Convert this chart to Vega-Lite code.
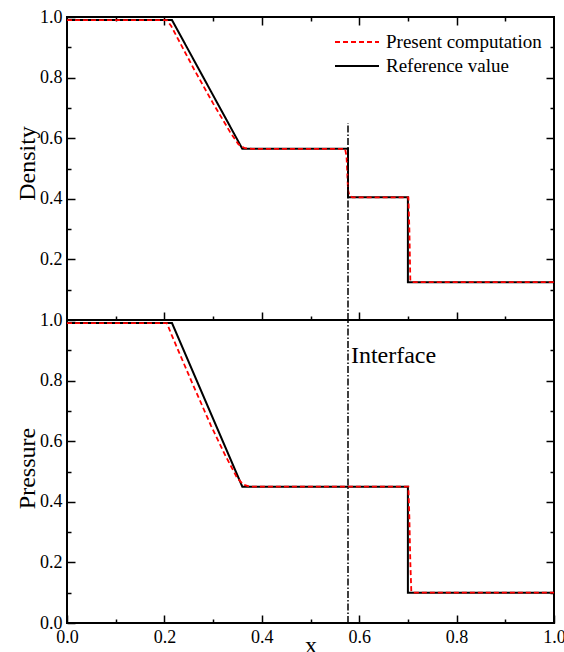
{
  "$schema": "https://vega.github.io/schema/vega-lite/v6.json",
  "background": "white",
  "padding": {"left": 14, "top": 7, "right": 0, "bottom": 0},
  "spacing": 0,
  "bounds": "flush",
  "config": {
    "font": "Liberation Serif",
    "view": {"stroke": "black", "strokeWidth": 2},
    "axis": {
      "grid": false, "domain": false, "tickColor": "black", "tickWidth": 1.5,
      "labelFont": "Liberation Serif", "labelFontSize": 18, "labelColor": "black",
      "titleFont": "Liberation Serif", "titleFontSize": 24, "titleFontWeight": "normal", "titleColor": "black",
      "labelPadding": 13, "labelFlush": false, "labelOverlap": false
    },
    "legend": {
      "orient": "none", "legendX": 267, "legendY": 14, "padding": 0, "title": null,
      "labelFont": "Liberation Serif", "labelFontSize": 19, "labelColor": "black", "labelOffset": 6,
      "symbolType": "stroke", "symbolSize": 1936, "symbolStrokeWidth": 1.8, "clipHeight": 22, "rowPadding": 2
    }
  },
  "resolve": {"legend": {"color": "independent", "strokeDash": "independent"}},
  "datasets": {
    "curves": [
      {"p": "Density", "s": "Reference value", "i": 0, "x": 0.0, "y": 0.99},
      {"p": "Density", "s": "Reference value", "i": 1, "x": 0.2156, "y": 0.99},
      {"p": "Density", "s": "Reference value", "i": 2, "x": 0.36, "y": 0.565},
      {"p": "Density", "s": "Reference value", "i": 3, "x": 0.577, "y": 0.565},
      {"p": "Density", "s": "Reference value", "i": 4, "x": 0.577, "y": 0.405},
      {"p": "Density", "s": "Reference value", "i": 5, "x": 0.70, "y": 0.405},
      {"p": "Density", "s": "Reference value", "i": 6, "x": 0.70, "y": 0.125},
      {"p": "Density", "s": "Reference value", "i": 7, "x": 1.0, "y": 0.125},
      {"p": "Density", "s": "Present computation", "i": 0, "x": 0.0, "y": 0.99},
      {"p": "Density", "s": "Present computation", "i": 1, "x": 0.205, "y": 0.99},
      {"p": "Density", "s": "Present computation", "i": 2, "x": 0.214, "y": 0.97},
      {"p": "Density", "s": "Present computation", "i": 3, "x": 0.26, "y": 0.83},
      {"p": "Density", "s": "Present computation", "i": 4, "x": 0.30, "y": 0.715},
      {"p": "Density", "s": "Present computation", "i": 5, "x": 0.335, "y": 0.62},
      {"p": "Density", "s": "Present computation", "i": 6, "x": 0.352, "y": 0.58},
      {"p": "Density", "s": "Present computation", "i": 7, "x": 0.365, "y": 0.567},
      {"p": "Density", "s": "Present computation", "i": 8, "x": 0.38, "y": 0.565},
      {"p": "Density", "s": "Present computation", "i": 9, "x": 0.571, "y": 0.565},
      {"p": "Density", "s": "Present computation", "i": 10, "x": 0.574, "y": 0.54},
      {"p": "Density", "s": "Present computation", "i": 11, "x": 0.577, "y": 0.43},
      {"p": "Density", "s": "Present computation", "i": 12, "x": 0.580, "y": 0.41},
      {"p": "Density", "s": "Present computation", "i": 13, "x": 0.586, "y": 0.405},
      {"p": "Density", "s": "Present computation", "i": 14, "x": 0.701, "y": 0.405},
      {"p": "Density", "s": "Present computation", "i": 15, "x": 0.703, "y": 0.30},
      {"p": "Density", "s": "Present computation", "i": 16, "x": 0.705, "y": 0.13},
      {"p": "Density", "s": "Present computation", "i": 17, "x": 0.709, "y": 0.125},
      {"p": "Density", "s": "Present computation", "i": 18, "x": 1.0, "y": 0.125},
      {"p": "Pressure", "s": "Reference value", "i": 0, "x": 0.0, "y": 0.99},
      {"p": "Pressure", "s": "Reference value", "i": 1, "x": 0.2156, "y": 0.99},
      {"p": "Pressure", "s": "Reference value", "i": 2, "x": 0.36, "y": 0.45},
      {"p": "Pressure", "s": "Reference value", "i": 3, "x": 0.70, "y": 0.45},
      {"p": "Pressure", "s": "Reference value", "i": 4, "x": 0.70, "y": 0.10},
      {"p": "Pressure", "s": "Reference value", "i": 5, "x": 1.0, "y": 0.10},
      {"p": "Pressure", "s": "Present computation", "i": 0, "x": 0.0, "y": 0.99},
      {"p": "Pressure", "s": "Present computation", "i": 1, "x": 0.205, "y": 0.99},
      {"p": "Pressure", "s": "Present computation", "i": 2, "x": 0.215, "y": 0.95},
      {"p": "Pressure", "s": "Present computation", "i": 3, "x": 0.255, "y": 0.80},
      {"p": "Pressure", "s": "Present computation", "i": 4, "x": 0.296, "y": 0.65},
      {"p": "Pressure", "s": "Present computation", "i": 5, "x": 0.326, "y": 0.55},
      {"p": "Pressure", "s": "Present computation", "i": 6, "x": 0.349, "y": 0.48},
      {"p": "Pressure", "s": "Present computation", "i": 7, "x": 0.362, "y": 0.457},
      {"p": "Pressure", "s": "Present computation", "i": 8, "x": 0.375, "y": 0.45},
      {"p": "Pressure", "s": "Present computation", "i": 9, "x": 0.701, "y": 0.45},
      {"p": "Pressure", "s": "Present computation", "i": 10, "x": 0.703, "y": 0.35},
      {"p": "Pressure", "s": "Present computation", "i": 11, "x": 0.705, "y": 0.2},
      {"p": "Pressure", "s": "Present computation", "i": 12, "x": 0.707, "y": 0.105},
      {"p": "Pressure", "s": "Present computation", "i": 13, "x": 0.712, "y": 0.10},
      {"p": "Pressure", "s": "Present computation", "i": 14, "x": 1.0, "y": 0.10}
    ],
    "interface": [
      {"p": "Density", "x": 0.577, "y": 0.0, "y2": 0.65},
      {"p": "Pressure", "x": 0.577, "y": 0.0, "y2": 1.0}
    ],
    "labels": [
      {"p": "Pressure", "x": 0.583, "y": 0.88, "text": "Interface"}
    ]
  },
  "vconcat": [
    {
      "width": 487, "height": 303,
      "resolve": {"axis": {"x": "independent", "y": "independent"}},
      "layer": [
        {
          "data": {"name": "curves"},
          "transform": [{"filter": "datum.p == 'Density' && datum.s == 'Reference value'"}],
          "mark": {"type": "line", "strokeWidth": 2, "clip": true},
          "encoding": {
            "x": {"field": "x", "type": "quantitative", "scale": {"domain": [0, 1], "nice": false, "zero": false},
              "axis": {"orient": "bottom", "values": [0.1, 0.2, 0.3, 0.4, 0.5, 0.6, 0.7, 0.8, 0.9], "labels": false, "title": null,
                "tickSize": {"condition": {"test": "round(datum.value*10)%2==0", "value": -8}, "value": -4}}},
            "y": {"field": "y", "type": "quantitative", "scale": {"domain": [0, 1], "nice": false, "zero": false},
              "axis": {"orient": "left", "values": [0.1, 0.2, 0.3, 0.4, 0.5, 0.6, 0.7, 0.8, 0.9, 1.0],
                "labelExpr": "round(datum.value*10)%2==0 ? format(datum.value,'.1f') : ''",
                "title": "Density", "titleX": -33, "titleY": 146, "titleBaseline": "alphabetic",
                "tickSize": {"condition": {"test": "round(datum.value*10)%2==0", "value": -8}, "value": -4}}},
            "order": {"field": "i", "type": "quantitative"},
            "color": {"field": "s", "type": "nominal", "scale": {"domain": ["Present computation", "Reference value"], "range": ["#ff0000", "#000000"]}},
            "strokeDash": {"field": "s", "type": "nominal", "scale": {"domain": ["Present computation", "Reference value"], "range": [[5, 3], [1, 0]]}}
          }
        },
        {
          "data": {"name": "curves"},
          "transform": [{"filter": "datum.p == 'Density' && datum.s == 'Present computation'"}],
          "mark": {"type": "line", "strokeWidth": 1.8, "clip": true},
          "encoding": {
            "x": {"field": "x", "type": "quantitative",
              "axis": {"orient": "top", "values": [0.1, 0.2, 0.3, 0.4, 0.5, 0.6, 0.7, 0.8, 0.9], "labels": false, "title": null,
                "tickSize": {"condition": {"test": "round(datum.value*10)%2==0", "value": -8}, "value": -4}}},
            "y": {"field": "y", "type": "quantitative",
              "axis": {"orient": "right", "values": [0.1, 0.2, 0.3, 0.4, 0.5, 0.6, 0.7, 0.8, 0.9], "labels": false, "title": null,
                "tickSize": {"condition": {"test": "round(datum.value*10)%2==0", "value": -8}, "value": -4}}},
            "order": {"field": "i", "type": "quantitative"},
            "color": {"field": "s", "type": "nominal"},
            "strokeDash": {"field": "s", "type": "nominal"}
          }
        },
        {
          "data": {"name": "interface"},
          "transform": [{"filter": "datum.p == 'Density'"}],
          "mark": {"type": "rule", "color": "black", "strokeWidth": 1.5, "strokeDash": [7, 2, 1.5, 2]},
          "encoding": {
            "x": {"field": "x", "type": "quantitative", "axis": null},
            "y": {"field": "y", "type": "quantitative", "axis": null},
            "y2": {"field": "y2"}
          }
        }
      ]
    },
    {
      "width": 487, "height": 303,
      "resolve": {"axis": {"x": "independent", "y": "independent"}},
      "layer": [
        {
          "data": {"name": "curves"},
          "transform": [{"filter": "datum.p == 'Pressure' && datum.s == 'Reference value'"}],
          "mark": {"type": "line", "strokeWidth": 2, "color": "black", "clip": true},
          "encoding": {
            "x": {"field": "x", "type": "quantitative", "scale": {"domain": [0, 1], "nice": false, "zero": false},
              "axis": {"orient": "bottom", "values": [0.0, 0.1, 0.2, 0.3, 0.4, 0.5, 0.6, 0.7, 0.8, 0.9, 1.0],
                "labelExpr": "round(datum.value*10)%2==0 ? format(datum.value,'.1f') : ''",
                "title": "x", "titleY": 29, "titleBaseline": "alphabetic",
                "tickSize": {"condition": {"test": "round(datum.value*10)%2==0", "value": -8}, "value": -4}}},
            "y": {"field": "y", "type": "quantitative", "scale": {"domain": [0, 1], "nice": false, "zero": false},
              "axis": {"orient": "left", "values": [0.0, 0.1, 0.2, 0.3, 0.4, 0.5, 0.6, 0.7, 0.8, 0.9, 1.0],
                "labelExpr": "round(datum.value*10)%2==0 ? format(datum.value,'.1f') : ''",
                "title": "Pressure", "titleX": -33, "titleY": 148, "titleBaseline": "alphabetic",
                "tickSize": {"condition": {"test": "round(datum.value*10)%2==0", "value": -8}, "value": -4}}},
            "order": {"field": "i", "type": "quantitative"}
          }
        },
        {
          "data": {"name": "curves"},
          "transform": [{"filter": "datum.p == 'Pressure' && datum.s == 'Present computation'"}],
          "mark": {"type": "line", "strokeWidth": 1.8, "color": "#ff0000", "strokeDash": [5, 3], "clip": true},
          "encoding": {
            "x": {"field": "x", "type": "quantitative", "axis": null},
            "y": {"field": "y", "type": "quantitative",
              "axis": {"orient": "right", "values": [0.1, 0.2, 0.3, 0.4, 0.5, 0.6, 0.7, 0.8, 0.9], "labels": false, "title": null,
                "tickSize": {"condition": {"test": "round(datum.value*10)%2==0", "value": -8}, "value": -4}}},
            "order": {"field": "i", "type": "quantitative"}
          }
        },
        {
          "data": {"name": "interface"},
          "transform": [{"filter": "datum.p == 'Pressure'"}],
          "mark": {"type": "rule", "color": "black", "strokeWidth": 1.5, "strokeDash": [7, 2, 1.5, 2]},
          "encoding": {
            "x": {"field": "x", "type": "quantitative", "axis": null},
            "y": {"field": "y", "type": "quantitative", "axis": null},
            "y2": {"field": "y2"}
          }
        },
        {
          "data": {"name": "labels"},
          "mark": {"type": "text", "align": "left", "baseline": "middle", "font": "Liberation Serif", "fontSize": 24, "color": "black"},
          "encoding": {
            "x": {"field": "x", "type": "quantitative", "axis": null},
            "y": {"field": "y", "type": "quantitative", "axis": null},
            "text": {"field": "text"}
          }
        }
      ]
    }
  ]
}
